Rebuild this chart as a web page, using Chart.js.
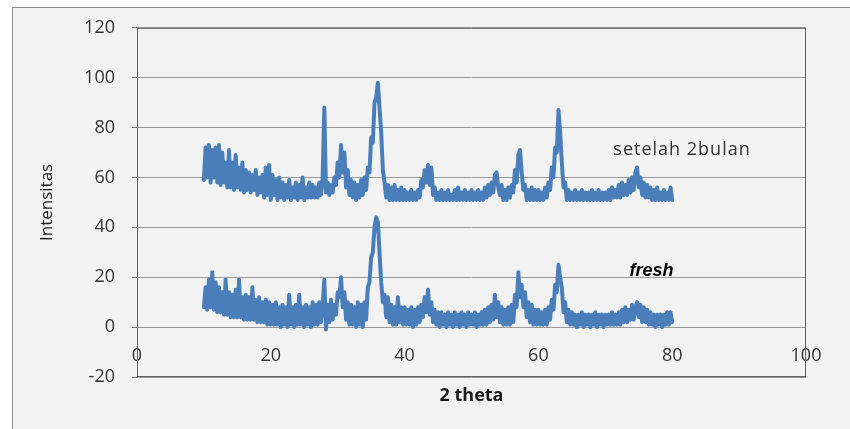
<!DOCTYPE html>
<html>
<head>
<meta charset="utf-8">
<title>XRD</title>
<script src="https://cdn.jsdelivr.net/npm/chart.js@4.4.1/dist/chart.umd.min.js"></script>
<style>
    html, body { margin: 0; padding: 0; background: #fff; overflow: hidden; }
    .frame { position: absolute; left: 12px; top: 7px; width: 900px; height: 500px;
             background: #f2f2f2; border-left: 1px solid #8c8c8c; border-top: 1px solid #8c8c8c; }
    #wrap  { position: absolute; left: 0; top: 0; width: 850px; height: 429px; }
</style>
</head>
<body>
<div class="frame"></div>
<div id="wrap"><canvas id="xrdChart"></canvas></div>
<script>
// 2 theta positions of the scan (degrees), 8 per row = 2 degrees
const THETA = [
    10, 10.25, 10.5, 10.75, 11, 11.25, 11.5, 11.75,
    12, 12.25, 12.5, 12.75, 13, 13.25, 13.5, 13.75,
    14, 14.25, 14.5, 14.75, 15, 15.25, 15.5, 15.75,
    16, 16.25, 16.5, 16.75, 17, 17.25, 17.5, 17.75,
    18, 18.25, 18.5, 18.75, 19, 19.25, 19.5, 19.75,
    20, 20.25, 20.5, 20.75, 21, 21.25, 21.5, 21.75,
    22, 22.25, 22.5, 22.75, 23, 23.25, 23.5, 23.75,
    24, 24.25, 24.5, 24.75, 25, 25.25, 25.5, 25.75,
    26, 26.25, 26.5, 26.75, 27, 27.25, 27.5, 27.75,
    28, 28.25, 28.5, 28.75, 29, 29.25, 29.5, 29.75,
    30, 30.25, 30.5, 30.75, 31, 31.25, 31.5, 31.75,
    32, 32.25, 32.5, 32.75, 33, 33.25, 33.5, 33.75,
    34, 34.25, 34.5, 34.75, 35, 35.25, 35.5, 35.75,
    36, 36.25, 36.5, 36.75, 37, 37.25, 37.5, 37.75,
    38, 38.25, 38.5, 38.75, 39, 39.25, 39.5, 39.75,
    40, 40.25, 40.5, 40.75, 41, 41.25, 41.5, 41.75,
    42, 42.25, 42.5, 42.75, 43, 43.25, 43.5, 43.75,
    44, 44.25, 44.5, 44.75, 45, 45.25, 45.5, 45.75,
    46, 46.25, 46.5, 46.75, 47, 47.25, 47.5, 47.75,
    48, 48.25, 48.5, 48.75, 49, 49.25, 49.5, 49.75,
    50, 50.25, 50.5, 50.75, 51, 51.25, 51.5, 51.75,
    52, 52.25, 52.5, 52.75, 53, 53.25, 53.5, 53.75,
    54, 54.25, 54.5, 54.75, 55, 55.25, 55.5, 55.75,
    56, 56.25, 56.5, 56.75, 57, 57.25, 57.5, 57.75,
    58, 58.25, 58.5, 58.75, 59, 59.25, 59.5, 59.75,
    60, 60.25, 60.5, 60.75, 61, 61.25, 61.5, 61.75,
    62, 62.25, 62.5, 62.75, 63, 63.25, 63.5, 63.75,
    64, 64.25, 64.5, 64.75, 65, 65.25, 65.5, 65.75,
    66, 66.25, 66.5, 66.75, 67, 67.25, 67.5, 67.75,
    68, 68.25, 68.5, 68.75, 69, 69.25, 69.5, 69.75,
    70, 70.25, 70.5, 70.75, 71, 71.25, 71.5, 71.75,
    72, 72.25, 72.5, 72.75, 73, 73.25, 73.5, 73.75,
    74, 74.25, 74.5, 74.75, 75, 75.25, 75.5, 75.75,
    76, 76.25, 76.5, 76.75, 77, 77.25, 77.5, 77.75,
    78, 78.25, 78.5, 78.75, 79, 79.25, 79.5, 79.75,
    80
];

// intensities after 2 months (upper trace)
const SETELAH_2BULAN = [
    59, 72, 60, 73, 58, 71, 60, 72,
    58, 73, 57, 70, 58, 66, 56, 71,
    56, 66, 55, 69, 56, 64, 55, 66,
    54, 63, 55, 62, 54, 61, 55, 63,
    53, 60, 54, 61, 52, 64, 53, 65,
    51, 61, 53, 59, 51, 60, 52, 58,
    51, 57, 52, 59, 51, 56, 52, 58,
    51, 57, 52, 60, 51, 56, 52, 58,
    52, 57, 52, 56, 52, 58, 53, 60,
    88, 54, 58, 53, 57, 54, 60, 57,
    66, 60, 73, 62, 70, 56, 63, 53,
    59, 52, 58, 51, 57, 52, 59, 53,
    60, 55, 64, 62, 76, 74, 90, 92,
    98, 88, 78, 63, 58, 52, 57, 51,
    56, 51, 57, 51, 55, 51, 56, 51,
    55, 51, 54, 51, 55, 51, 54, 51,
    55, 52, 59, 56, 63, 58, 65, 57,
    64, 53, 56, 51, 54, 51, 55, 51,
    54, 51, 55, 51, 53, 51, 55, 51,
    56, 51, 54, 51, 55, 51, 54, 51,
    55, 51, 54, 51, 55, 51, 54, 51,
    56, 52, 57, 53, 58, 54, 61, 62,
    56, 53, 57, 51, 55, 51, 56, 52,
    57, 54, 63, 58, 69, 71, 62, 55,
    57, 51, 55, 51, 56, 51, 55, 51,
    55, 51, 54, 51, 56, 52, 58, 55,
    64, 60, 72, 70, 87, 78, 66, 56,
    58, 51, 55, 51, 54, 51, 55, 51,
    54, 51, 55, 51, 54, 51, 54, 51,
    55, 51, 54, 51, 55, 51, 54, 51,
    54, 51, 55, 51, 56, 52, 55, 52,
    57, 52, 58, 53, 57, 53, 59, 54,
    60, 55, 62, 64, 56, 60, 53, 58,
    52, 57, 52, 56, 51, 55, 51, 56,
    51, 54, 51, 55, 51, 54, 51, 56,
    51
];

// fresh sample intensities (lower trace)
const FRESH = [
    8, 16, 7, 19, 8, 22, 7, 18,
    6, 16, 6, 14, 5, 19, 5, 14,
    4, 13, 4, 15, 4, 19, 4, 12,
    3, 13, 3, 12, 3, 16, 3, 11,
    2, 12, 2, 10, 2, 11, 1, 10,
    1, 9, 1, 10, 1, 8, 0, 9,
    1, 8, 0, 13, 1, 8, 0, 9,
    1, 13, 1, 8, 0, 9, 1, 8,
    0, 10, 1, 9, 1, 10, 2, 9,
    19, -1, 9, 2, 11, 3, 9, 5,
    14, 12, 20, 8, 14, 3, 10, 1,
    9, 1, 8, 0, 10, 1, 9, 0,
    10, 3, 16, 18, 28, 30, 40, 44,
    42, 30, 18, 10, 13, 4, 12, 2,
    9, 1, 8, 1, 12, 2, 8, 1,
    8, 1, 7, 1, 8, 0, 7, 1,
    8, 2, 9, 4, 12, 6, 15, 5,
    10, 2, 7, 1, 6, 0, 6, 1,
    5, 0, 6, 1, 5, 0, 6, 1,
    5, 0, 6, 1, 5, 0, 6, 1,
    5, 1, 6, 0, 5, 1, 6, 1,
    7, 1, 8, 2, 9, 3, 13, 4,
    10, 2, 8, 1, 7, 1, 8, 1,
    9, 2, 13, 8, 22, 12, 17, 8,
    14, 4, 10, 2, 9, 1, 7, 1,
    7, 1, 6, 1, 7, 1, 8, 3,
    11, 7, 17, 14, 25, 20, 16, 6,
    10, 2, 7, 1, 6, 1, 5, 0,
    5, 1, 6, 0, 5, 1, 5, 0,
    5, 1, 6, 0, 5, 1, 5, 0,
    5, 1, 5, 1, 6, 1, 5, 1,
    6, 1, 7, 2, 8, 2, 7, 3,
    9, 3, 8, 10, 4, 9, 2, 8,
    2, 7, 1, 6, 1, 5, 0, 5,
    1, 5, 0, 5, 1, 6, 1, 6,
    2
];

const X_TICKS = [0, 20, 40, 60, 80, 100];
const Y_TICKS = [-20, 0, 20, 40, 60, 80, 100, 120];

const LINE_COLOR = '#4a7ebb';
const TICK_FONT  = { family: '"Open Sans", sans-serif', size: 18 };

document.addEventListener('DOMContentLoaded', function () {
    initializeXrdChart();
});

// plot area frame + the two in-chart labels
const plotDecor = {
    id: 'plotDecor',
    afterDraw(chart) {
        const { ctx, chartArea: a, scales } = chart;
        ctx.save();
        ctx.strokeStyle = '#5f5f5f';
        ctx.lineWidth = 1;
        ctx.strokeRect(a.left + 0.5, a.top + 0.5, a.width - 1, a.height - 1);

        ctx.textBaseline = 'alphabetic';
        ctx.textAlign = 'left';
        ctx.fillStyle = '#333';
        ctx.font = '18px "Open Sans", sans-serif';
        if ('letterSpacing' in ctx) ctx.letterSpacing = '1px';
        ctx.fillText('setelah 2bulan', scales.x.getPixelForValue(71.2), scales.y.getPixelForValue(69));
        if ('letterSpacing' in ctx) ctx.letterSpacing = '0px';
        ctx.fillStyle = '#000';
        ctx.font = 'italic bold 18px "Liberation Sans", Arial, sans-serif';
        ctx.fillText('fresh', scales.x.getPixelForValue(73.6), scales.y.getPixelForValue(20.6));
        ctx.restore();
    }
};

function initializeXrdChart() {
    const ctx = document.getElementById('xrdChart');
    if (!ctx) return;

    const toPoints = ys => THETA.map((t, i) => ({ x: t, y: ys[i] }));
    const lineStyle = {
        borderColor: LINE_COLOR, backgroundColor: LINE_COLOR, borderWidth: 4,
        pointRadius: 0, tension: 0, fill: false,
        borderJoinStyle: 'round', borderCapStyle: 'round'
    };

    new Chart(ctx, {
        type: 'line',
        data: {
            datasets: [
                { label: 'setelah 2bulan', data: toPoints(SETELAH_2BULAN), ...lineStyle },
                { label: 'fresh',          data: toPoints(FRESH),          ...lineStyle }
            ]
        },
        options: {
            responsive: true,
            maintainAspectRatio: false,
            animation: false,
            layout: { padding: { left: 0, top: 25, right: 44, bottom: 0 } },
            plugins: { legend: { display: false }, tooltip: { enabled: false } },
            scales: {
                x: {
                    type: 'linear', position: 'bottom', min: 0, max: 100,
                    grid: { display: false }, border: { display: false },
                    ticks: { display: false },
                    title: { display: true, text: '2 theta', color: '#1a1a1a',
                             font: { family: '"Open Sans", sans-serif', size: 18, weight: 'bold' },
                             padding: { top: 0, bottom: 22 } },
                    afterFit: s => { s.height = 52; }
                },
                xLabels: {
                    type: 'linear', axis: 'x', position: { y: 0 }, min: 0, max: 100,
                    grid: { display: false, drawTicks: false }, border: { display: false },
                    afterBuildTicks: s => { s.ticks = X_TICKS.map(v => ({ value: v })); },
                    ticks: { padding: 18, color: '#333', font: TICK_FONT, maxRotation: 0 }
                },
                y: {
                    type: 'linear', min: -20, max: 120,
                    afterBuildTicks: s => { s.ticks = Y_TICKS.map(v => ({ value: v })); },
                    grid: { color: '#9a9a9a', tickLength: 5, tickColor: '#777' },
                    border: { display: false },
                    ticks: { padding: 17, color: '#333', font: TICK_FONT },
                    title: { display: true, text: 'Intensitas', color: '#1a1a1a',
                             font: { family: '"Open Sans", sans-serif', size: 17 },
                             padding: { top: 37, bottom: 0 } },
                    afterFit: s => { s.width = 137; }
                }
            }
        },
        plugins: [plotDecor]
    });
}
</script>
</body>
</html>
